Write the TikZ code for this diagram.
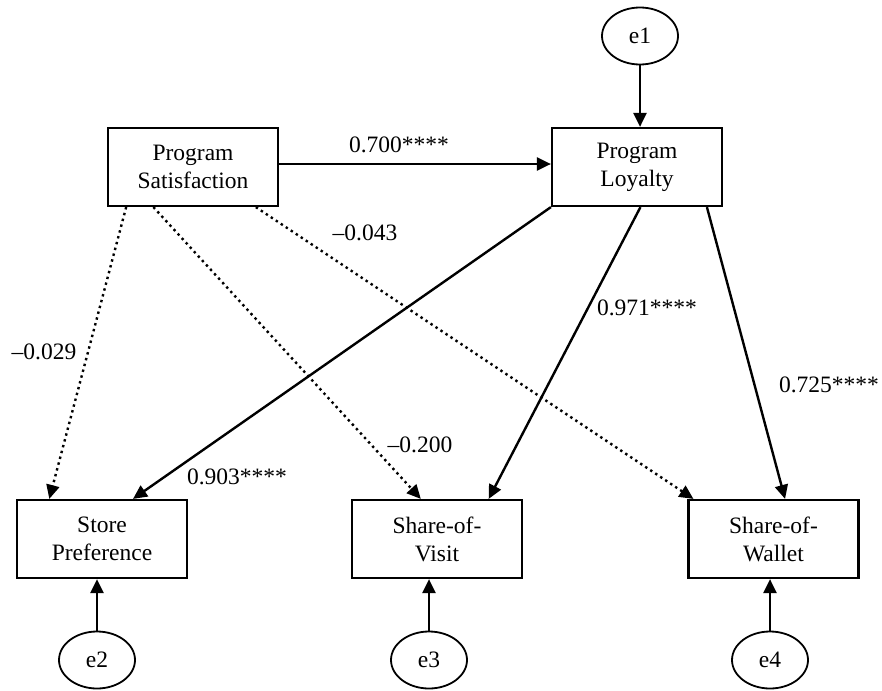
\documentclass[tikz,border=0pt]{standalone}
\usepackage{fontspec}
\setmainfont{Liberation Serif}
\usetikzlibrary{arrows.meta,calc,shapes.geometric}
\begin{document}
\begin{tikzpicture}[x=1pt,y=-1pt,
 txt/.style={font=\fontsize{23.5}{28}\selectfont},
 box/.style={txt,draw,line width=2.2pt,minimum width=170pt,minimum height=78pt,align=center,inner sep=0pt},
 err/.style={txt,draw,ellipse,line width=1.8pt,minimum width=76pt,minimum height=57pt,inner sep=0pt},
 lbl/.style={txt,inner sep=0pt},
 tip/.style={-{Triangle[length=14pt,width=13pt]}},
 sol/.style={tip,line width=2.4pt},
 dotl/.style={tip,line width=2.4pt,dash pattern=on 2.4pt off 3.6pt}]
\useasboundingbox (0,0) rectangle (882,690);
\node[err] (e1) at (640,36) {e1};
\node[box] (ps) at (193,167) {Program\\Satisfaction};
\node[box] (pl) at (637,167) {Program\\Loyalty};
\node[box] (sp) at (102,539) {Store\\Preference};
\node[box] (sv) at (437,539) {Share-of-\\Visit};
\node[box] (sw) at (773.5,539) {Share-of-\\Wallet};
\node[err] (e2) at (97,660) {e2};
\node[err] (e3) at (429,660) {e3};
\node[err] (e4) at (770,660) {e4};
% error arrows
\draw[sol] (e1.south) -- (e1.south |- pl.north);
\draw[sol] (e2.north) -- (e2.north |- sp.south);
\draw[sol] (e3.north) -- (e3.north |- sv.south);
\draw[sol] (e4.north) -- (e4.north |- sw.south);
% structural paths
\draw[sol] ([yshift=3pt]ps.east) -- ([yshift=3pt]pl.west);
\draw[sol] (pl.south west) -- ($(sp.north west)!0.68!(sp.north east)$);
\draw[sol] ($(pl.south west)!0.52!(pl.south east)$) -- ($(sv.north west)!0.80!(sv.north east)$);
\draw[sol] ($(pl.south west)!0.906!(pl.south east)$) -- ($(sw.north west)!0.567!(sw.north east)$);
\draw[dotl] ($(ps.south west)!0.112!(ps.south east)$) -- ($(sp.north west)!0.194!(sp.north east)$);
\draw[dotl] ($(ps.south west)!0.27!(ps.south east)$) -- ($(sv.north west)!0.406!(sv.north east)$);
\draw[dotl] ($(ps.south west)!0.865!(ps.south east)$) -- ($(sw.north west)!0.035!(sw.north east)$);
% labels
\node[lbl] (l1) at (399,145) {0.700****};
\node[lbl] (l2) at (365,233) {–0.043};
\node[lbl] (l3) at (44,352) {–0.029};
\node[lbl] (l4) at (237,477) {0.903****};
\node[lbl] (l5) at (420,445) {–0.200};
\node[lbl] (l6) at (647,308) {0.971****};
\node[lbl] (l7) at (829,385) {0.725****};
\end{tikzpicture}
\end{document}
